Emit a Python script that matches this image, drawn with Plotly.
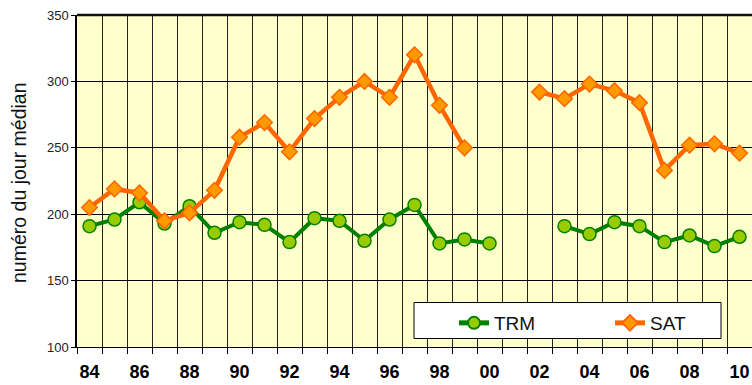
import plotly.graph_objects as go

# Years on the x axis (1984 .. 2010)
years = list(range(1984, 2011))
# Labels shown on every other year
tick_years = list(range(1984, 2011, 2))
tick_labels = ["84", "86", "88", "90", "92", "94", "96", "98", "00",
               "02", "04", "06", "08", "10"]

# Median day number per year (None = no data)
trm = [191, 196, 209, 193, 206, 186, 194, 192, 179, 197, 195, 180, 196, 207,
       178, 181, 178, None, None, 191, 185, 194, 191, 179, 184, 176, 183]
sat = [205, 219, 216, 195, 201, 218, 258, 269, 247, 272, 288, 300, 288, 320,
       282, 250, None, None, 292, 287, 298, 293, 284, 233, 252, 253, 246]

FONT = "Liberation Sans, Arial, sans-serif"

# plot area in pixels (used to place the legend frame)
L, R, T, B = 77, 752, 15, 347


def px_x(p):
    return (p - L) / (R - L)


def px_y(p):
    return (B - p) / (B - T)


legend_font = dict(size=19, family=FONT, color="#111111")

fig = go.Figure()
fig.add_trace(go.Scatter(
    x=years, y=trm, name="TRM", mode="lines+markers",
    line=dict(color="#008000", width=4),
    marker=dict(symbol="circle", size=13, color="#99CC00",
                line=dict(color="#008000", width=1.5)),
    connectgaps=False,
    legend="legend",
))
fig.add_trace(go.Scatter(
    x=years, y=sat, name="SAT", mode="lines+markers",
    line=dict(color="#FF6600", width=4.5),
    marker=dict(symbol="diamond", size=12, color="#FF9900",
                line=dict(color="#FF6600", width=1.5)),
    connectgaps=False,
    legend="legend2",
))

fig.update_layout(
    width=752, height=385,
    margin=dict(l=L, r=752 - R, t=T, b=385 - B, autoexpand=False),
    paper_bgcolor="white",
    plot_bgcolor="#FFFFCC",
    font=dict(family=FONT, color="black"),
    showlegend=True,
    legend=dict(
        x=px_x(454), xanchor="left",
        y=px_y(304), yanchor="top",
        bgcolor="rgba(0,0,0,0)", borderwidth=0,
        font=legend_font, itemsizing="constant",
    ),
    legend2=dict(
        x=px_x(610), xanchor="left",
        y=px_y(304), yanchor="top",
        bgcolor="rgba(0,0,0,0)", borderwidth=0,
        font=legend_font, itemsizing="constant",
    ),
    xaxis=dict(
        range=[1983.5, 2010.5],
        tickmode="array", tickvals=tick_years, ticktext=tick_labels,
        ticks="", showgrid=False, zeroline=False,
        ticklabelstandoff=8, automargin=False,
        tickfont=dict(size=18, family=FONT, color="black", weight="bold"),
        showline=True, linecolor="black", linewidth=1,
        minor=dict(tickmode="linear", tick0=1983.5, dtick=1,
                   showgrid=True, gridcolor="#222222", gridwidth=1,
                   ticks="outside", ticklen=6, tickcolor="black", tickwidth=1),
        fixedrange=True,
    ),
    yaxis=dict(
        range=[100, 350],
        tickmode="linear", tick0=100, dtick=50,
        showgrid=True, gridcolor="black", gridwidth=1,
        zeroline=False, automargin=False,
        ticks="outside", ticklen=4, tickcolor="black",
        tickfont=dict(size=13, family=FONT, color="#222222"),
        showline=True, linecolor="black", linewidth=1.5,
        fixedrange=True,
    ),
    shapes=[
        # heavy frame line along the top of the plot area
        dict(type="line", xref="paper", yref="paper",
             x0=0, x1=1, y0=1, y1=1,
             line=dict(color="#111111", width=2.5)),
        # white legend frame
        dict(type="rect", xref="paper", yref="paper", layer="above",
             x0=px_x(414), x1=px_x(721), y0=px_y(338.5), y1=px_y(302.5),
             fillcolor="white", line=dict(color="black", width=1)),
    ],
    annotations=[dict(
        text="numéro du jour médian", textangle=-90,
        xref="paper", yref="paper", x=px_x(19), y=px_y(183),
        xanchor="center", yanchor="middle", showarrow=False,
        font=dict(size=19.5, family=FONT, color="#111111"),
    )],
)

fig.write_html("out.html")
